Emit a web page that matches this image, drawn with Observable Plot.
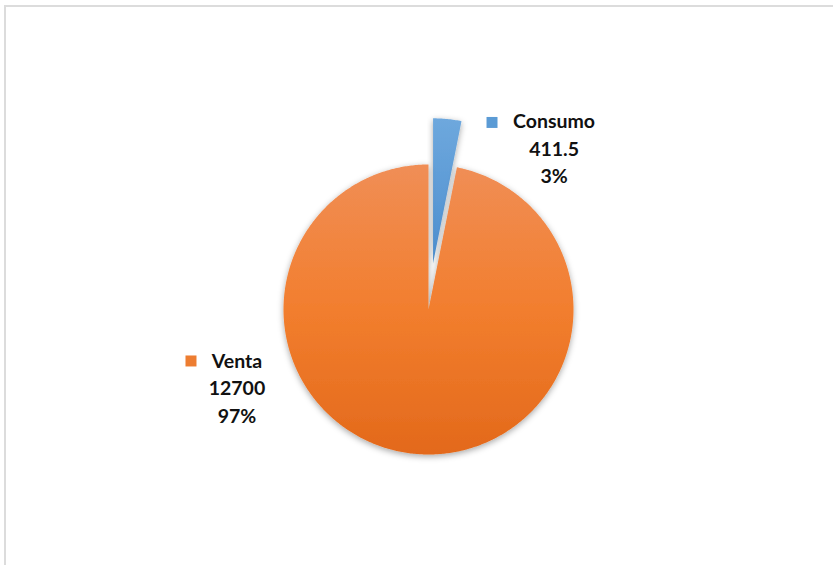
<!DOCTYPE html>
<html><head><meta charset="utf-8">
<script src="https://cdn.jsdelivr.net/npm/d3@7"></script>
<script src="https://cdn.jsdelivr.net/npm/@observablehq/plot@0.6"></script>
<style>
html,body{margin:0;padding:0;background:#fff;overflow:hidden;width:833px;height:565px}
#chart{position:absolute;left:0;top:0}
#frame{position:absolute;left:4px;top:5px;width:900px;height:700px;border-left:2px solid #dcdcdc;border-top:2px solid #dcdcdc;pointer-events:none}
</style></head><body>
<div id="chart"></div><div id="frame"></div>
<script>
// ---- data ----
const categories = ["Consumo", "Venta"];
const values = [411.5, 12700];
const valueLabels = ["411.5", "12700"];
const percentLabels = ["3%", "97%"];

// ---- layout (in unit-radius coordinates) ----
const explode = [0.32, 0];
const labelPos = [{x: 0.866, y: 1.12}, {x: -1.321, y: -0.531}];
const keyPos = [{x: 0.438, y: 1.29}, {x: -1.638, y: -0.355}];
const gradIds = ["gBlue", "gOrange"];
const keyColors = ["#5B9BD5", "#ED7D31"];

const arcs = d3.pie().sort(null).value(d => d).startAngle(0).endAngle(2 * Math.PI)(values);

function slicePoints(arc, off) {
  const mid = (arc.startAngle + arc.endAngle) / 2;
  const cx = off * Math.sin(mid), cy = off * Math.cos(mid);
  const pts = [{x: cx, y: cy}];
  const n = Math.max(8, Math.ceil((arc.endAngle - arc.startAngle) / 0.01));
  for (let i = 0; i <= n; i++) {
    const a = arc.startAngle + (arc.endAngle - arc.startAngle) * i / n;
    pts.push({x: cx + Math.sin(a), y: cy + Math.cos(a)});
  }
  pts.push({x: cx, y: cy});
  return pts;
}

const sliceMarks = arcs.map((arc, i) =>
  Plot.line(slicePoints(arc, explode[i]), {x: "x", y: "y", fill: `url(#${gradIds[i]})`, stroke: "none", curve: "linear"})
);

const labels = categories.map((c, i) => ({
  text: `${c}\n${valueLabels[i]}\n${percentLabels[i]}`, x: labelPos[i].x, y: labelPos[i].y
}));
const keys = categories.map((c, i) => ({x: keyPos[i].x, y: keyPos[i].y, color: keyColors[i]}));

const plot = Plot.plot({
  width: 833, height: 565,
  marginLeft: 283, marginRight: 260, marginTop: 164, marginBottom: 111,
  x: {domain: [-1, 1], axis: null},
  y: {domain: [-1, 1], axis: null},
  style: {background: "transparent", overflow: "visible"},
  marks: [
    ...sliceMarks,
    Plot.dot(keys, {x: "x", y: "y", symbol: "square", r: 6.2, fill: d => d.color, stroke: "none"}),
    Plot.text(labels, {x: "x", y: "y", text: "text", fontSize: 19.5, fontWeight: "bold",
      fontFamily: "Lato", fill: "#111", lineHeight: 27.5 / 19.5, lineAnchor: "middle", textAnchor: "middle"})
  ]
});

const svg = d3.select(plot);
const defs = svg.insert("defs", ":first-child");
const go = defs.append("linearGradient").attr("id", "gOrange").attr("x1", 0).attr("y1", 0).attr("x2", 0).attr("y2", 1);
go.append("stop").attr("offset", 0).attr("stop-color", "#F08E56");
go.append("stop").attr("offset", 0.5).attr("stop-color", "#F27E2E");
go.append("stop").attr("offset", 1).attr("stop-color", "#E3691B");
const gb = defs.append("linearGradient").attr("id", "gBlue").attr("x1", 0).attr("y1", 0).attr("x2", 0).attr("y2", 1);
gb.append("stop").attr("offset", 0).attr("stop-color", "#6EA8DD");
gb.append("stop").attr("offset", 1).attr("stop-color", "#4C8ECF");
const f = defs.append("filter").attr("id", "shadow").attr("x", "-20%").attr("y", "-20%").attr("width", "140%").attr("height", "140%");
f.append("feDropShadow").attr("dx", 0).attr("dy", 2).attr("stdDeviation", 3)
  .attr("flood-color", "#000").attr("flood-opacity", 0.35);
svg.selectAll("g[aria-label='line']").attr("filter", "url(#shadow)");

document.getElementById("chart").appendChild(plot);
</script>
</body></html>
